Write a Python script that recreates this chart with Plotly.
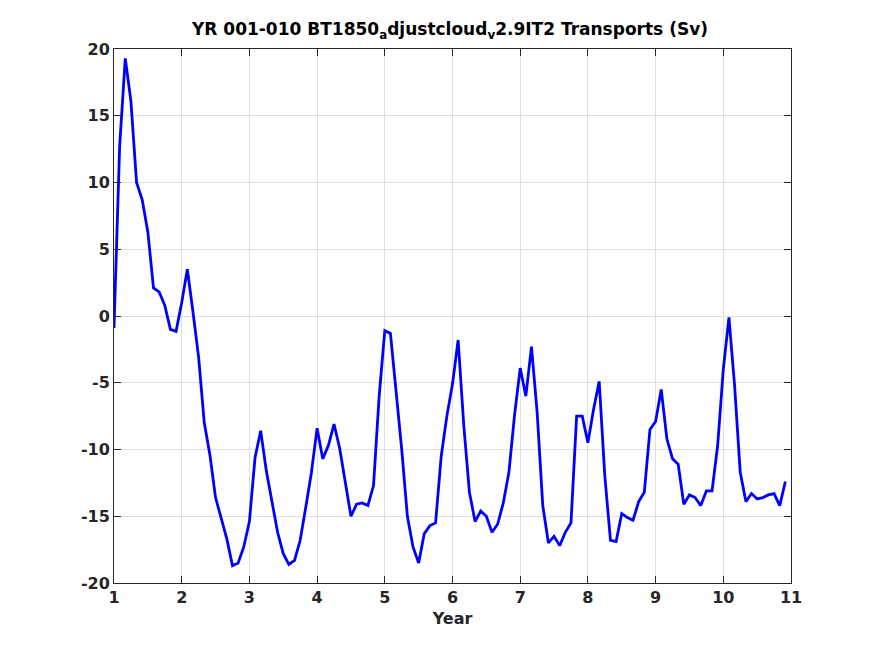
import numpy as np
import plotly.graph_objects as go

# Monthly transport values (Sv), years 1..11
transport = [
    -0.9, 12.7, 19.3, 16.1, 10.0, 8.7, 6.3, 2.1, 1.8, 0.8, -1.0, -1.15, 1.0, 3.5, 0.3,
    -3.1, -8.0, -10.4, -13.6, -15.2, -16.7, -18.7, -18.5, -17.3, -15.4, -10.6, -8.6,
    -11.6, -14.0, -16.2, -17.8, -18.6, -18.3, -16.8, -14.3, -11.7, -8.4, -10.7, -9.7,
    -8.1, -9.9,
    -12.3, -15.0, -14.1, -14.0, -14.2, -12.7, -6.0, -1.1, -1.3, -5.7, -10.0, -15.0,
    -17.3, -18.5, -16.3, -15.7, -15.5, -10.5, -7.5, -5.1, -1.8, -8.2, -13.2, -15.4,
    -14.6, -15.0, -16.2, -15.6, -14.0, -11.7, -7.4, -3.9, -6.0, -2.3, -7.2, -14.2,
    -17.0, -16.5,
    -17.2, -16.2, -15.5, -7.5, -7.5, -9.5, -7.0, -4.9, -12.0, -16.8, -16.9, -14.8,
    -15.1, -15.3, -13.9, -13.2, -8.5, -7.9, -5.5, -9.2, -10.7, -11.1, -14.1, -13.4,
    -13.6, -14.2, -13.1, -13.1, -9.7, -4.0, -0.1, -5.2, -11.7, -13.9, -13.3, -13.7,
    -13.6, -13.4, -13.3, -14.2, -12.4,
]
years = 1 + np.arange(len(transport)) / 12.0

x_ticks = [1, 2, 3, 4, 5, 6, 7, 8, 9, 10, 11]
y_ticks = [-20, -15, -10, -5, 0, 5, 10, 15, 20]

title_text = "YR 001-010 BT1850<sub>a</sub>djustcloud<sub>v</sub>2.9IT2 Transports (Sv)"
x_label = "Year"

FONT = "DejaVu Sans"
AX = "#262626"
GRID = "#dfdfdf"

W, H = 875, 656
PAGE_OFF = 8  # default body margin of the html page

fig = go.Figure()
fig.add_trace(go.Scatter(x=years, y=transport, mode="lines",
                         line=dict(color="#0000ff", width=2.8), showlegend=False))

axis_common = dict(
    showline=True, linecolor=AX, linewidth=1, mirror="allticks",
    ticks="inside", ticklen=7, tickcolor=AX, tickwidth=1,
    showgrid=True, gridcolor=GRID, gridwidth=1, zeroline=False,
    tickfont=dict(family=FONT, size=16, color=AX, weight="bold"),
)

fig.update_layout(
    width=W, height=H,
    margin=dict(l=114 - PAGE_OFF, r=84 + PAGE_OFF, t=49 - PAGE_OFF, b=73 + PAGE_OFF),
    paper_bgcolor="white", plot_bgcolor="white",
    title=dict(text=title_text, x=(450 - PAGE_OFF) / W, xanchor="center", xref="container",
               y=1 - (29.5 - PAGE_OFF) / H, yanchor="middle",
               font=dict(family=FONT, size=17, color="black", weight="bold")),
    xaxis=dict(range=[1, 11], tickvals=x_ticks, ticktext=[str(v) for v in x_ticks],
               title=dict(text=x_label, standoff=6,
                          font=dict(family=FONT, size=16, color=AX, weight="bold")),
               **axis_common),
    yaxis=dict(range=[-20, 20], tickvals=y_ticks, ticktext=[str(v) for v in y_ticks],
               **axis_common),
)

fig.write_html("out.html")
